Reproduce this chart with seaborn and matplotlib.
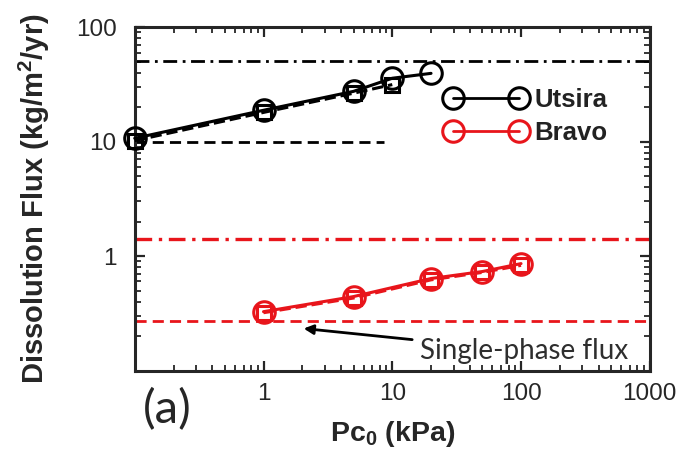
import matplotlib
matplotlib.use('Agg')
import matplotlib.pyplot as plt
import seaborn as sns
import pandas as pd

# Datos
utsira_pc = [0.1, 1, 5, 10, 20]
utsira_flux = [10.7, 18.8, 27.5, 35.8, 39.5]
utsira_sq_pc = [0.1, 1, 5, 10]
utsira_sq_flux = [10.2, 18.0, 26.5, 31.5]

bravo_pc = [1, 5, 20, 50, 100]
bravo_flux = [0.327, 0.443, 0.637, 0.733, 0.86]
bravo_sq_pc = [1, 5, 20, 50, 100]
bravo_sq_flux = [0.32, 0.43, 0.62, 0.72, 0.83]

utsira_max = 51.0        # dash-dot negro
utsira_single = 10.0     # discontinua negra
utsira_single_xmax = 8.7
bravo_max = 1.4          # dash-dot rojo
bravo_single = 0.27      # discontinua roja

xticks = [1, 10, 100, 1000]
xticklabels = ['1', '10', '100', '1000']
yticks = [1, 10, 100]
yticklabels = ['1', '10', '100']

sns.set_style('ticks')
plt.rcParams['font.family'] = ['Liberation Sans', 'DejaVu Sans']
plt.rcParams['mathtext.fontset'] = 'custom'
plt.rcParams['mathtext.rm'] = 'Liberation Sans'
plt.rcParams['mathtext.bf'] = 'Liberation Sans:bold'

red = '#e8151b'
dashdot = (0, (5, 2, 1, 2))
dashed = (0, (4, 2.2))

fig = plt.figure(figsize=(6.84, 4.53), dpi=100)
ax = fig.add_axes([0.197, 0.182, 0.753, 0.758])

def curve(x, y, color, marker, ls, ms, lw=2.2):
    df = pd.DataFrame({'x': x, 'y': y})
    sns.lineplot(data=df, x='x', y='y', ax=ax, color=color, marker=marker,
                 markersize=ms, markerfacecolor='none', markeredgecolor=color,
                 markeredgewidth=2.2, linestyle=ls, linewidth=lw, legend=False,
                 clip_on=False, zorder=5)

curve(utsira_sq_pc, utsira_sq_flux, 'black', 's', '--', 10)
curve(bravo_sq_pc, bravo_sq_flux, red, 's', '--', 10)
curve(utsira_pc, utsira_flux, 'black', 'o', '-', 15.5)
curve(bravo_pc, bravo_flux, red, 'o', '-', 15.5)

ax.axhline(utsira_max, color='black', linestyle=dashdot, linewidth=2.0)
ax.axhline(bravo_max, color=red, linestyle=dashdot, linewidth=2.4)
ax.axhline(bravo_single, color=red, linestyle=dashed, linewidth=2.0)
ax.plot([0.1, utsira_single_xmax], [utsira_single, utsira_single], color='black',
        linestyle=dashed, linewidth=2.0)

ax.set_xscale('log')
ax.set_yscale('log')
ax.set_xlim(0.1, 1000)
ax.set_ylim(0.1, 100)
ax.set_xticks(xticks)
ax.set_xticklabels(xticklabels)
ax.set_yticks(yticks)
ax.set_yticklabels(yticklabels)

ax.tick_params(which='both', direction='in', top=True, right=True)
ax.tick_params(which='major', length=7, width=1.6, labelsize=17.5)
ax.tick_params(axis='x', which='major', pad=9)
ax.tick_params(axis='y', which='major', pad=13)
ax.tick_params(which='minor', length=4, width=1.3)
for s in ax.spines.values():
    s.set_linewidth(2.2)
    s.set_visible(True)

ax.set_xlabel(r'Pc$_\mathbf{0}$ (kPa)', fontsize=20.5, fontweight='bold', labelpad=10)
ax.set_ylabel(r'Dissolution Flux (kg/m$^\mathbf{2}$/yr)', fontsize=21,
              fontweight='bold', labelpad=17)

# Leyenda con marcadores en ambos extremos
h1, = ax.plot([], [], color='black', marker='o', markersize=15.5, markerfacecolor='none',
              markeredgewidth=2.2, linewidth=2.0)
h2, = ax.plot([], [], color=red, marker='o', markersize=15.5, markerfacecolor='none',
              markeredgewidth=2.2, linewidth=2.0)
leg = ax.legend([h1, h2], ['Utsira', 'Bravo'], loc='upper left',
                bbox_to_anchor=(0.559, 0.89), frameon=False, numpoints=2,
                handlelength=3.16, handletextpad=0.3, labelspacing=0.35,
                borderpad=0.4, prop={'weight': 'bold', 'size': 18.5})
for t in leg.get_texts():
    t.set_color('#222222')

ax.annotate('Single-phase flux', xy=(2.05, 0.233), xytext=(16.3, 0.148),
            fontsize=20, family=['Lato', 'DejaVu Sans'], color='#2e2e2e',
            va='center', ha='left', zorder=6,
            arrowprops=dict(arrowstyle='-|>', color='black', lw=2.0,
                            mutation_scale=14, shrinkA=3, shrinkB=0))

fig.text(0.244, 0.095, '(a)', fontsize=34, family=['Lato', 'DejaVu Sans'],
         ha='center', va='center')

fig.savefig('out.png', dpi=100)
